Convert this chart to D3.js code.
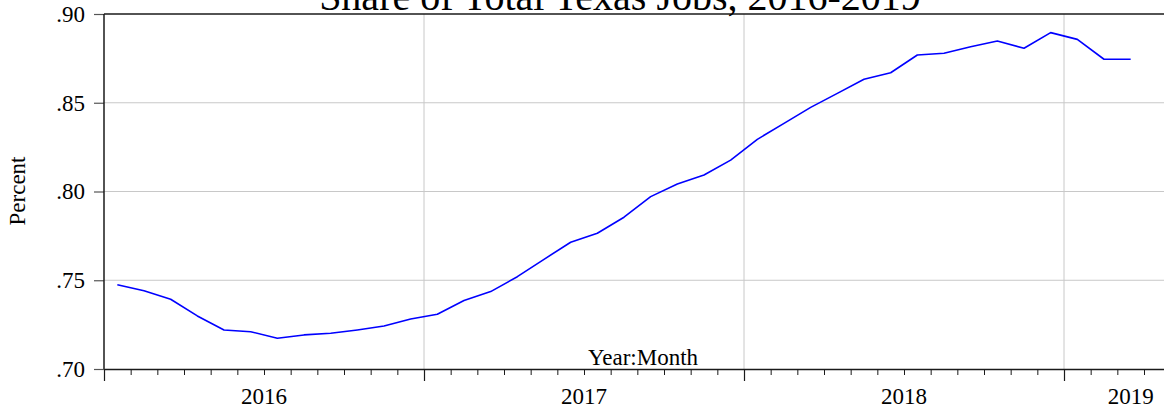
<!DOCTYPE html>
<html>
<head>
<meta charset="utf-8">
<script src="https://cdn.jsdelivr.net/npm/d3@7"></script>
<style>
  html, body { margin: 0; padding: 0; background: #fff; }
  svg { display: block; }
  text { font-family: "Liberation Serif", "Times New Roman", serif; fill: #000; }
</style>
</head>
<body>
<svg id="chart" width="1164" height="412"></svg>
<script>
// ---- Data (monthly, Jan 2016 – Mar 2019) ----
const months = ["2016-01","2016-02","2016-03","2016-04","2016-05","2016-06","2016-07","2016-08","2016-09","2016-10","2016-11","2016-12",
                "2017-01","2017-02","2017-03","2017-04","2017-05","2017-06","2017-07","2017-08","2017-09","2017-10","2017-11","2017-12",
                "2018-01","2018-02","2018-03","2018-04","2018-05","2018-06","2018-07","2018-08","2018-09","2018-10","2018-11","2018-12",
                "2019-01","2019-02","2019-03"];
const shareValues = [0.7475,0.7441,0.7393,0.7299,0.7220,0.7210,0.7173,0.7192,0.7201,0.7220,0.7242,0.7282,
                     0.7308,0.7386,0.7436,0.7520,0.7618,0.7714,0.7765,0.7855,0.7971,0.8042,0.8093,0.8177,
                     0.8294,0.8384,0.8474,0.8553,0.8632,0.8669,0.8769,0.8779,0.8816,0.8848,0.8807,0.8895,
                     0.8857,0.8745,0.8745];
const yTicks = [0.70, 0.75, 0.80, 0.85, 0.90];
const yearLabels = ["2016","2017","2018","2019"];
const titleText = "Share of Total Texas Jobs, 2016-2019";
const yAxisTitle = "Percent";
const xAxisTitle = "Year:Month";

// ---- Layout ----
const svg = d3.select("#chart");
const W = 1164, H = 412;
const plotLeft = 104, plotTop = 14, plotBottom = 369;
const monthW = 320 / 12;
const axisMonths = 41; // axis continues past the right edge of the picture
const x = d3.scaleLinear().domain([0, axisMonths]).range([plotLeft, plotLeft + axisMonths * monthW]);
const y = d3.scaleLinear().domain([0.70, 0.90]).range([plotBottom, plotTop]);

const data = months.map((m, i) => ({ m, i, v: shareValues[i] }));

// gridlines
const g = svg.append("g");
g.selectAll(".hgrid").data(yTicks.filter(t => t > 0.70 && t < 0.90)).join("line")
  .attr("x1", plotLeft).attr("x2", W).attr("y1", d => y(d)).attr("y2", d => y(d))
  .attr("stroke", "#c8c8c8").attr("stroke-width", 1);
const yearStarts = yearLabels.map((_, k) => k * 12);
g.selectAll(".vgrid").data(yearStarts.filter(s => s > 0)).join("line")
  .attr("x1", d => x(d)).attr("x2", d => x(d)).attr("y1", plotTop).attr("y2", plotBottom)
  .attr("stroke", "#c8c8c8").attr("stroke-width", 1);

// line
const line = d3.line().x(d => x(d.i + 0.5)).y(d => y(d.v));
svg.append("path").datum(data).attr("d", line)
  .attr("fill", "none").attr("stroke", "#0000ff").attr("stroke-width", 1.6)
  .attr("stroke-linejoin", "round");

// x axis: minor month ticks
const monthTicks = d3.range(0, axisMonths + 1).filter(d => d % 12 !== 0);
const xMinor = d3.axisBottom(x).tickValues(monthTicks).tickSize(6).tickSizeOuter(0).tickFormat("");
const gxMin = svg.append("g").attr("transform", `translate(0,${plotBottom})`).call(xMinor);
gxMin.select(".domain").attr("stroke", "#1a1a1a").attr("stroke-width", 1.5);
gxMin.selectAll(".tick line").attr("stroke", "#1a1a1a").attr("stroke-width", 1);

// x axis: major year ticks
const xMajor = d3.axisBottom(x).tickValues(yearStarts).tickSize(12).tickSizeOuter(0).tickFormat("");
const gxMaj = svg.append("g").attr("transform", `translate(0,${plotBottom})`).call(xMajor);
gxMaj.select(".domain").remove();
gxMaj.selectAll(".tick line").attr("stroke", "#1a1a1a").attr("stroke-width", 1.2);

// year labels centered in each year's span
svg.append("g").selectAll("text").data(yearLabels).join("text")
  .attr("x", (d, k) => (x(k * 12) + x(Math.min(k * 12 + 12, axisMonths))) / 2)
  .attr("y", 404)
  .attr("text-anchor", "middle").attr("font-size", 23)
  .text(d => d);

// y axis
const yAxis = d3.axisLeft(y).tickValues(yTicks).tickSize(10).tickPadding(9).tickSizeOuter(0)
  .tickFormat(d => d3.format(".2f")(d).replace(/^0/, ""));
const gy = svg.append("g").attr("transform", `translate(${plotLeft},0)`).call(yAxis);
gy.select(".domain").remove();
gy.selectAll(".tick line").attr("stroke", "#555").attr("stroke-width", 1.2);
gy.selectAll(".tick text").attr("font-size", 23).attr("font-family", "Liberation Serif").attr("fill", "#000");

// frame: left and top
svg.append("line").attr("x1", plotLeft).attr("x2", plotLeft).attr("y1", plotTop).attr("y2", plotBottom)
  .attr("stroke", "#1a1a1a").attr("stroke-width", 1.5);
svg.append("line").attr("x1", plotLeft).attr("x2", W).attr("y1", plotTop).attr("y2", plotTop)
  .attr("stroke", "#1a1a1a").attr("stroke-width", 1.5);

// titles
svg.append("text").attr("x", 620).attr("y", 10).attr("text-anchor", "middle")
  .attr("font-size", 40).text(titleText);
svg.append("text").attr("x", 643).attr("y", 365).attr("text-anchor", "middle")
  .attr("font-size", 23).text(xAxisTitle);
svg.append("text").attr("transform", "translate(25,191) rotate(-90)").attr("text-anchor", "middle")
  .attr("font-size", 23).text(yAxisTitle);
</script>
</body>
</html>
